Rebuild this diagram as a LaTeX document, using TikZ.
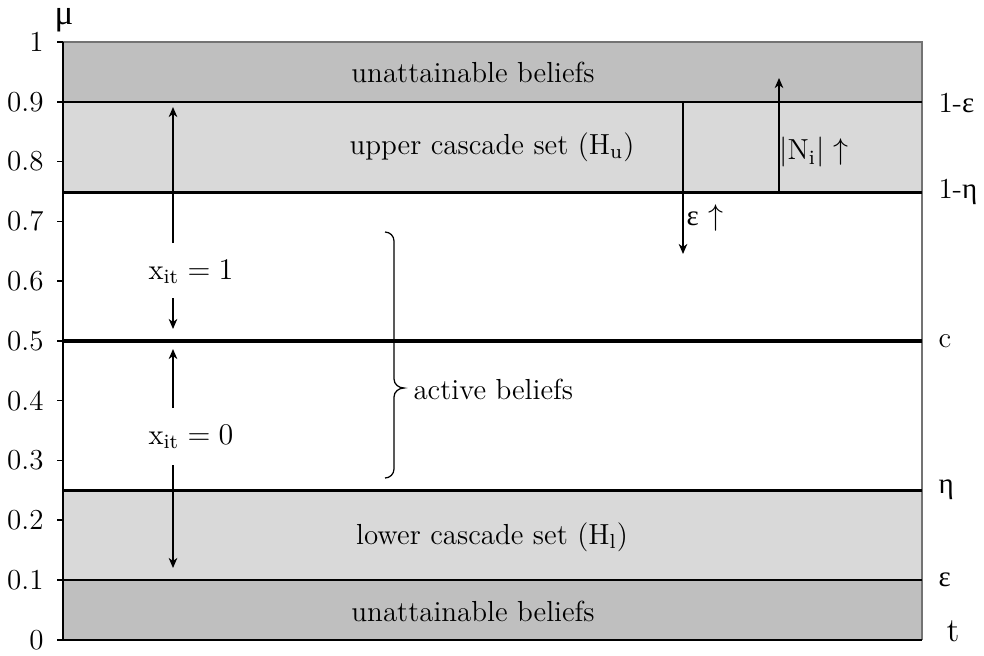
\documentclass[tikz,border=0pt]{standalone}
\usepackage{fontspec}
\newfontfamily\gr{Liberation Serif}
\usetikzlibrary{arrows.meta}
\definecolor{darkband}{gray}{0.75}
\definecolor{lightband}{gray}{0.85}
\definecolor{framegray}{gray}{0.45}
\begin{document}
\begin{tikzpicture}[x=0.4pt,y=-0.4pt,
  level/.style={line width=0.9pt},
  arr/.style={line width=0.8pt,-{Stealth[length=4pt,width=3.4pt,inset=1.2pt]}},
  lbl/.style={font=\fontsize{11.6}{14}\selectfont, inner sep=0pt},
  ticklbl/.style={font=\fontsize{11.6}{14}\selectfont, anchor=east, inner sep=0pt},
  rlbl/.style={font=\fontsize{11.6}{14}\selectfont, anchor=west, inner sep=0pt}]
\useasboundingbox (0,0) rectangle (984,655);
% bands
\fill[darkband] (63,42) rectangle (922,102);
\fill[lightband] (63,102) rectangle (922,192.4);
\fill[lightband] (63,490.4) rectangle (922,580);
\fill[darkband] (63,580) rectangle (922,639.75);
\draw[framegray, line width=0.5pt] (63,42) -- (922,42) -- (922,639.75);
% level lines
\foreach \yy in {102,192.4,490.4,580} \draw[level] (63,\yy) -- (922,\yy);
\draw[line width=1.6pt] (63,341) -- (922,341);
% axes
\draw[line width=0.8pt] (63,42) -- (63,639.75) -- (922,639.75);
% ticks and tick labels
\foreach \v/\t in {0/0,1/0.1,2/0.2,3/0.3,4/0.4,5/0.5,6/0.6,7/0.7,8/0.8,9/0.9,10/1} {
  \pgfmathsetmacro\yy{639.75-59.775*\v}
  \draw[line width=0.6pt] (57,\yy) -- (63,\yy);
  \node[ticklbl] (tick\v) at (44,\yy) {\t};
}
\node[font=\fontsize{14}{15}\selectfont\gr, inner sep=0pt] (mu) at (64,20) {μ};
% right labels
\node[rlbl] (r1e) at (938,103) {1-{\gr ε}};
\node[rlbl] (r1n) at (938,192) {1-{\gr η}};
\node[rlbl] (rc) at (938,341) {c};
\node[rlbl] (rn) at (938,490) {{\gr η}};
\node[rlbl] (re) at (938,580) {{\gr ε}};
\node[lbl, font=\fontsize{13.5}{15}\selectfont] (rt) at (953,631) {t};
% band labels
\node[lbl] (ub1) at (473,72) {unattainable beliefs};
\node[lbl] (uc) at (492,147) {upper cascade set (H$_{\mathrm{u}}$)};
\node[lbl] (lc) at (492,537) {lower cascade set (H$_{\mathrm{l}}$)};
\node[lbl] (ub2) at (473,611) {unattainable beliefs};
% left column arrows
\node[lbl] (x1) at (191,272) {$\mathrm{x}_{\mathrm{it}} = 1$};
\node[lbl] (x0) at (191,437) {$\mathrm{x}_{\mathrm{it}} = 0$};
\coordinate (a1s) at (173,243);
\coordinate (a1e) at (173,107);
\coordinate (a2s) at (173,298);
\coordinate (a2e) at (173,329);
\coordinate (a3s) at (173,408);
\coordinate (a3e) at (173,349);
\coordinate (a4s) at (173,465);
\coordinate (a4e) at (173,568);
\draw[arr] (a1s) -- (a1e);
\draw[arr] (a2s) -- (a2e);
\draw[arr] (a3s) -- (a3e);
\draw[arr] (a4s) -- (a4e);
% epsilon arrow
\coordinate (es) at (683,102);
\coordinate (ee) at (683,254);
\draw[arr] (es) -- (ee);
\node[lbl] (el) at (705,218) {{\gr ε} $\uparrow$};
% N arrow
\coordinate (ns) at (779,192.4);
\coordinate (ne) at (779,78);
\draw[arr] (ns) -- (ne);
\node[lbl] (nl) at (814,152) {$|\mathrm{N}_{\mathrm{i}}|$ $\uparrow$};
% brace
\draw[line width=0.5pt] (385,232) to[out=0,in=90] (394,241) -- (394,379)
  to[out=-90,in=180] (404,388) to[out=180,in=90] (394,397) -- (394,469)
  to[out=-90,in=0] (385,478);
\node[rlbl] (ab) at (413,389) {active beliefs};
\end{tikzpicture}
\end{document}
